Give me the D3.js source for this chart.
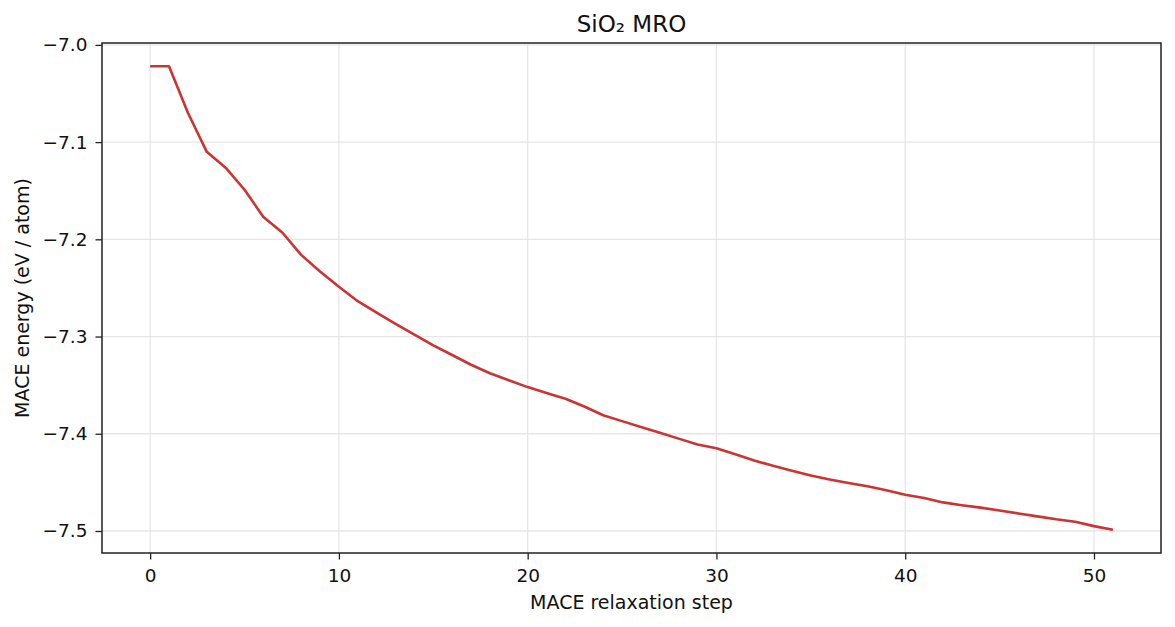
<!DOCTYPE html>
<html>
<head>
<meta charset="utf-8">
<script src="https://cdn.jsdelivr.net/npm/d3@7"></script>
<style>
  body { margin: 0; background: #fff; }
  svg { display: block; font-family: "DejaVu Sans", sans-serif; }
</style>
</head>
<body>
<svg id="chart" width="1175" height="627"></svg>
<script>
// MACE relaxation energies
const steps = d3.range(0, 52);
const energy = [
  -7.0219, -7.0219, -7.0698, -7.1100, -7.1263, -7.1490, -7.1770, -7.1930, -7.2160, -7.2330,
  -7.2487, -7.2636, -7.2755, -7.2870, -7.2980, -7.3090, -7.3190, -7.3290, -7.3377, -7.3450,
  -7.3520, -7.3580, -7.3640, -7.3720, -7.3810, -7.3870, -7.3930, -7.3990, -7.4050, -7.4110,
  -7.4150, -7.4210, -7.4275, -7.4330, -7.4380, -7.4430, -7.4470, -7.4507, -7.4540, -7.4580,
  -7.4628, -7.4660, -7.4706, -7.4735, -7.4760, -7.4790, -7.4820, -7.4850, -7.4880, -7.4905,
  -7.4950, -7.4988
];
const xTicks = [0, 10, 20, 30, 40, 50];
const yTicks = [-7.0, -7.1, -7.2, -7.3, -7.4, -7.5];

const svg = d3.select("#chart");
const plotL = 102, plotR = 1161, plotT = 43, plotB = 553;

// matplotlib-style 5% margins
let xPad = (d3.max(steps) - d3.min(steps)) * 0.05;
let yPad = (d3.max(energy) - d3.min(energy)) * 0.05;
let x = d3.scaleLinear().domain([d3.min(steps) - xPad, d3.max(steps) + xPad]).range([plotL, plotR]);
let y = d3.scaleLinear().domain([d3.min(energy) - yPad, d3.max(energy) + yPad]).range([plotB, plotT]);

// grid
svg.append("g").selectAll("line").data(xTicks).enter().append("line")
  .attr("x1", d => x(d)).attr("x2", d => x(d))
  .attr("y1", plotT).attr("y2", plotB)
  .attr("stroke", "#e6e6e6").attr("stroke-width", 1.3);
svg.append("g").selectAll("line").data(yTicks).enter().append("line")
  .attr("x1", plotL).attr("x2", plotR)
  .attr("y1", d => y(d)).attr("y2", d => y(d))
  .attr("stroke", "#e6e6e6").attr("stroke-width", 1.3);

// line
let line = d3.line().x((d, i) => x(steps[i])).y(d => y(d));
svg.append("path")
  .datum(energy)
  .attr("d", line)
  .attr("fill", "none")
  .attr("stroke", "#cc3333")
  .attr("stroke-width", 2.6)
  .attr("stroke-linejoin", "round");

// axes
let fmt = d => d3.format(".1f")(d).replace("-", "\u2212");
let xAxis = svg.append("g")
  .attr("transform", `translate(0,${plotB})`)
  .call(d3.axisBottom(x).tickValues(xTicks).tickSize(6.5).tickPadding(9).tickFormat(d3.format("d")));
let yAxis = svg.append("g")
  .attr("transform", `translate(${plotL},0)`)
  .call(d3.axisLeft(y).tickValues(yTicks).tickSize(6.5).tickPadding(8).tickFormat(fmt));
[xAxis, yAxis].forEach(a => {
  a.select(".domain").remove();
  a.selectAll("line").attr("stroke", "#222").attr("stroke-width", 1.3);
  a.selectAll("text").attr("fill", "#111").style("font-size", "18.5px").style("font-family", "DejaVu Sans");
});

// frame
svg.append("rect")
  .attr("x", plotL).attr("y", plotT)
  .attr("width", plotR - plotL).attr("height", plotB - plotT)
  .attr("fill", "none").attr("stroke", "#222").attr("stroke-width", 1.5);

// labels
svg.append("text")
  .attr("x", (plotL + plotR) / 2).attr("y", 32)
  .attr("text-anchor", "middle").style("font-size", "23px").attr("fill", "#111")
  .text("SiO\u2082 MRO");
svg.append("text")
  .attr("x", (plotL + plotR) / 2).attr("y", 609)
  .attr("text-anchor", "middle").style("font-size", "19px").attr("fill", "#111")
  .text("MACE relaxation step");
svg.append("text")
  .attr("transform", `translate(29,${(plotT + plotB) / 2}) rotate(-90)`)
  .attr("text-anchor", "middle").style("font-size", "19px").attr("fill", "#111")
  .text("MACE energy (eV / atom)");
</script>
</body>
</html>
